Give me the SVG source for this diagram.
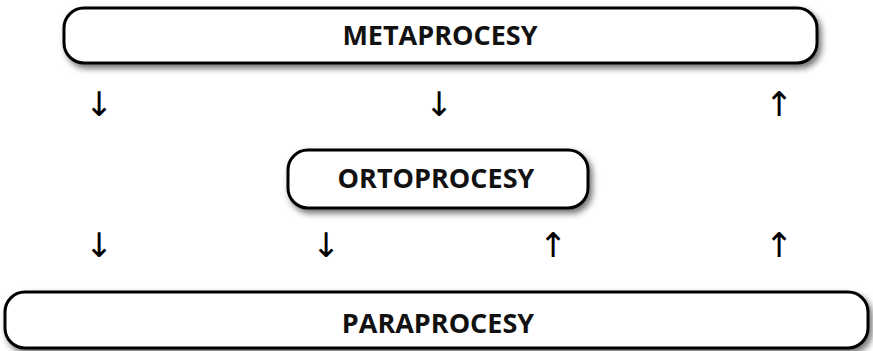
<svg xmlns="http://www.w3.org/2000/svg" width="873" height="351" viewBox="0 0 873 351">
<defs>
<filter id="sh" x="-10%" y="-30%" width="120%" height="170%">
<feDropShadow dx="3" dy="4" stdDeviation="3" flood-color="#000" flood-opacity="0.55"/>
</filter>
<style>
.box{fill:#fff;stroke:#000;stroke-width:3;filter:url(#sh)}
.lbl{font-family:"Open Sans","Liberation Sans",sans-serif;font-weight:bold;font-size:27px;text-anchor:middle;fill:#111}
.arr{font-family:"DejaVu Sans",sans-serif;font-size:34px;text-anchor:middle;fill:#000}
</style>
</defs>
<rect width="873" height="351" fill="#fff"/>
<g id="metaprocesy">
<rect class="box" x="64" y="8" width="753" height="55" rx="20"/>
<text class="lbl" x="440" y="45">METAPROCESY</text>
</g>
<g id="ortoprocesy">
<rect class="box" x="288" y="150" width="300" height="58" rx="20"/>
<text class="lbl" x="436" y="188">ORTOPROCESY</text>
</g>
<g id="paraprocesy">
<rect class="box" x="5" y="292" width="863" height="56" rx="20"/>
<text class="lbl" x="438" y="333">PARAPROCESY</text>
</g>
<g id="connectors">
<text class="arr" x="99" y="116">↓</text>
<text class="arr" x="439" y="116">↓</text>
<text class="arr" x="779" y="116">↑</text>
<text class="arr" x="99" y="257">↓</text>
<text class="arr" x="326" y="257">↓</text>
<text class="arr" x="553" y="257">↑</text>
<text class="arr" x="779" y="257">↑</text>
</g>
</svg>
